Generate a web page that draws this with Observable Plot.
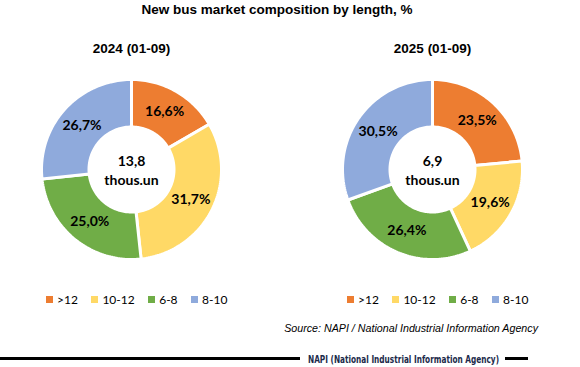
<!DOCTYPE html>
<html>
<head>
<meta charset="utf-8">
<script src="https://cdn.jsdelivr.net/npm/d3@7"></script>
<script src="https://cdn.jsdelivr.net/npm/@observablehq/plot@0.6"></script>
<style>
  html, body { margin: 0; padding: 0; background: #fff; }
  #root { position: relative; width: 580px; height: 367px; overflow: hidden; background: #fff; }
  .abs { position: absolute; }
  #title { top: 2px; left: 0; width: 554px; text-align: center; font: bold 13.5px "Liberation Sans", Arial, sans-serif; color: #000; }
  #chart { top: 30px; left: 0; }
  .lgwrap { top: 290px; height: 18px; }
  .lgwrap .lg-swatches { margin: 0 !important; min-height: 18px !important; font-family: Lato, sans-serif !important; font-size: 12px !important; color: #000; }
  .lgwrap .lg-swatch { margin-right: 13.5px !important; }
  .lgwrap .lg-swatch > svg { margin-right: 4px !important; }
  #source { top: 322px; right: 42px; font: italic 10.7px "Liberation Sans", Arial, sans-serif; color: #000; white-space: nowrap; }
  #footer { top: 350px; left: 0; }
</style>
</head>
<body>
<div id="root">
  <div id="title" class="abs">New bus market composition by length, %</div>
  <div id="chart" class="abs"></div>
  <div id="lg0" class="abs lgwrap" style="left:46px"></div>
  <div id="lg1" class="abs lgwrap" style="left:347px"></div>
  <div id="source" class="abs">Source: NAPI / National Industrial Information Agency</div>
  <svg id="footer" class="abs" width="580" height="17"></svg>
</div>
<script>
// ---- data ----
const years = ["2024 (01-09)", "2025 (01-09)"];
const categories = [">12", "10-12", "6-8", "8-10"];
const shares2024 = [16.6, 31.7, 25.0, 26.7];
const shares2025 = [23.5, 19.6, 26.4, 30.5];
const totals = [13.8, 6.9];
const totalUnit = "thous.un";
const colors = ["#ED7D31", "#FFD966", "#70AD47", "#8FAADC"];

// ---- geometry derived from data ----
const R_OUT = 90, R_IN = 42.5, R_LABEL = 66.5;
const series = [shares2024, shares2025];
const comma = v => d3.format(".1f")(v).replace(".", ",");

const polyPts = [];
const labels = [];
series.forEach((vals, yi) => {
  const arcs = d3.pie().sort(null).value(d => d)(vals);
  arcs.forEach((a, ci) => {
    const key = years[yi] + "|" + categories[ci];
    const n = Math.max(2, Math.ceil((a.endAngle - a.startAngle) / (Math.PI / 120)));
    const ring = [];
    for (let i = 0; i <= n; i++) {
      const t = a.startAngle + (a.endAngle - a.startAngle) * i / n;
      ring.push([R_OUT * Math.sin(t), R_OUT * Math.cos(t)]);
    }
    for (let i = n; i >= 0; i--) {
      const t = a.startAngle + (a.endAngle - a.startAngle) * i / n;
      ring.push([R_IN * Math.sin(t), R_IN * Math.cos(t)]);
    }
    ring.push(ring[0]);
    ring.forEach(([x, y]) => polyPts.push({year: years[yi], cat: categories[ci], key, x, y}));
    const m = (a.startAngle + a.endAngle) / 2;
    labels.push({year: years[yi], x: R_LABEL * Math.sin(m), y: R_LABEL * Math.cos(m), text: comma(vals[ci]) + "%"});
  });
});
const centers = years.map((y, i) => ({year: y, text: comma(totals[i]) + "\n" + totalUnit}));

const plot = Plot.plot({
  width: 580,
  height: 250,
  marginLeft: 30.5,
  marginRight: 48.5,
  marginTop: 39,
  marginBottom: 11,
  style: {background: "transparent"},
  x: {domain: [-100, 100], axis: null},
  y: {domain: [-100, 100], axis: null},
  fx: {domain: years, paddingInner: 101 / 301, paddingOuter: 0, axis: null},
  color: {domain: categories, range: colors},
  marks: [
    Plot.line(polyPts, {fx: "year", x: "x", y: "y", z: "key", fill: "cat", stroke: "white", strokeWidth: 3, strokeLinejoin: "round", curve: "linear"}),
    Plot.text(labels, {fx: "year", x: "x", y: "y", text: "text", fill: "#000", fontSize: 14, fontWeight: "bold", fontFamily: "Lato, sans-serif"}),
    Plot.text(centers, {fx: "year", text: "text", frameAnchor: "middle", fill: "#000", fontSize: 14, fontWeight: "bold", fontFamily: "Lato, sans-serif", lineHeight: 1.33}),
    Plot.text(years, {fx: d => d, text: d => d, frameAnchor: "top", dy: -21, lineAnchor: "middle", fill: "#000", fontSize: 13.5, fontWeight: "bold", fontFamily: "Liberation Sans, Arial, sans-serif"})
  ]
});
document.getElementById("chart").appendChild(plot);

["lg0", "lg1"].forEach(id => {
  const lg = Plot.legend({color: {domain: categories, range: colors}, swatchSize: 7, className: "lg"});
  document.getElementById(id).appendChild(lg);
});

// footer rule with agency name
const f = d3.select("#footer");
f.append("rect").attr("x", 0).attr("y", 7).attr("width", 300).attr("height", 3).attr("fill", "#000");
f.append("rect").attr("x", 505).attr("y", 7).attr("width", 23).attr("height", 3).attr("fill", "#000");
f.append("text").attr("x", 308).attr("y", 12.5).attr("textLength", 191).attr("lengthAdjust", "spacingAndGlyphs")
  .attr("font-family", "DejaVu Sans Condensed, DejaVu Sans, sans-serif").attr("font-weight", "bold").attr("font-size", 10)
  .attr("fill", "#1b2a4a").text("NAPI (National Industrial Information Agency)");
</script>
</body>
</html>
